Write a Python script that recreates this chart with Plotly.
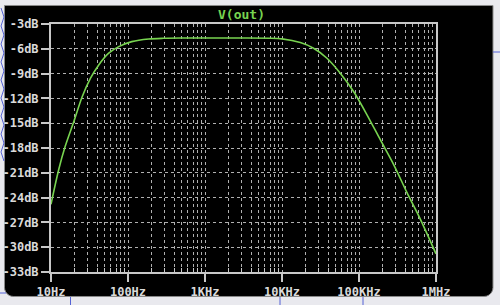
import math
import plotly.graph_objects as go

# ---- data ----
freq_hz = [10, 12.6, 15.3, 19.8, 25.4, 32.6, 41.7, 56.2, 75.9, 112, 186, 288,
           500, 1000, 3000, 7000, 10000, 17300, 25700, 38400, 57100, 85100,
           127000, 189000, 282000, 420000, 625000, 1000000]
gain_db = [-24.8, -20.6, -17.8, -14.8, -11.8, -9.55, -7.95, -6.53, -5.74, -5.13,
           -4.81, -4.73, -4.70, -4.70, -4.70, -4.72, -4.80, -5.25, -5.93, -7.14,
           -8.95, -11.17, -13.98, -17.0, -20.0, -23.4, -26.6, -30.8]

x_tick_vals = [10, 100, 1000, 10000, 100000, 1000000]
x_tick_text = ["10Hz", "100Hz", "1KHz", "10KHz", "100KHz", "1MHz"]
y_tick_vals = [-3, -6, -9, -12, -15, -18, -21, -24, -27, -30, -33]
y_tick_text = ["-3dB", "-6dB", "-9dB", "-12dB", "-15dB", "-18dB", "-21dB",
               "-24dB", "-27dB", "-30dB", "-33dB"]
minor_vals = [m * 10 ** d for d in range(1, 6) for m in range(2, 10)]
title_text = "V(out)"

W, H = 500, 305
ML, MR, MT, MB = 51, 64, 24, 33
PW, PH = W - ML - MR, H - MT - MB


def px(x):
    return (x - ML) / PW


def py(y):
    return (H - MB - y) / PH


FONT = "DejaVu Sans Mono"
LABEL = "#dadada"
GRID = "#b0b0b0"
FRAME = "#c8c8c8"
GREEN = "#78d450"

fig = go.Figure()
fig.add_trace(go.Scatter(
    x=freq_hz, y=gain_db, mode="lines",
    line=dict(color=GREEN, width=1.6, shape="spline", smoothing=0.8),
    hoverinfo="skip", showlegend=False))

# black panel: square top, rounded bottom corners (polygon)
x0, x1, y0, y1, r = 4.5, 493, 5.5, 296.5, 9
pts = [(x0, y0), (x1, y0), (x1, y1 - r)]
for k in range(1, 7):
    a = (math.pi / 2) * k / 6
    pts.append((x1 - r + r * math.cos(a), y1 - r + r * math.sin(a)))
pts.append((x0 + r, y1))
for k in range(1, 7):
    a = math.pi / 2 + (math.pi / 2) * k / 6
    pts.append((x0 + r + r * math.cos(a), y1 - r + r * math.sin(a)))
path = "M " + " L ".join(f"{px(a):.5f},{py(b):.5f}" for a, b in pts) + " Z"
shapes = [dict(type="path", xref="paper", yref="paper", path=path,
               fillcolor="#000000", line=dict(color="#8a8a8a", width=1), layer="below")]

BLUE = "#5563d6"
wig_pts = []
yy = 8.0
while yy < 160:
    wig_pts.append((1.0, yy))
    wig_pts.append((4.0, yy + 9))
    yy += 18
wig = "M " + " L ".join(f"{px(a):.5f},{py(b):.5f}" for a, b in wig_pts)
shapes.append(dict(type="path", xref="paper", yref="paper", path=wig,
                   line=dict(color=BLUE, width=1), layer="below"))
for (xa, ya, xb, yb) in [(493, 52, 500, 52), (0, 293, 6, 293), (70.5, 297, 70.5, 305),
                         (280, 297, 280, 305), (363, 297, 363, 305)]:
    shapes.append(dict(type="line", xref="paper", yref="paper",
                       x0=px(xa), y0=py(ya), x1=px(xb), y1=py(yb),
                       line=dict(color=BLUE, width=1), layer="below"))

fig.update_layout(
    width=W, height=H,
    margin=dict(l=ML, r=MR, t=MT, b=MB, pad=0, autoexpand=False),
    paper_bgcolor="#e9e9ee",
    plot_bgcolor="#000000",
    shapes=shapes,
    showlegend=False,
    annotations=[dict(text=f"<b>{title_text}</b>", xref="paper", yref="paper",
                      x=px(241), y=py(14), xanchor="center", yanchor="middle",
                      showarrow=False,
                      font=dict(family=FONT, size=13, color=GREEN))],
)

fig.update_xaxes(
    type="log", range=[1, 6], automargin=False,
    tickmode="array", tickvals=x_tick_vals, ticktext=[f"<b>{t}</b>" for t in x_tick_text],
    ticks="outside", ticklen=8, tickwidth=1.5, tickcolor=FRAME,
    showline=True, linecolor=FRAME, linewidth=2, mirror=True,
    showgrid=True, gridcolor=GRID, gridwidth=1, griddash="3px,3px",
    zeroline=False,
    tickfont=dict(family=FONT, size=12, color=LABEL),
    minor=dict(tickmode="array", tickvals=minor_vals, ticks="inside", ticklen=4,
               tickcolor=FRAME, tickwidth=1, showgrid=True, gridcolor=GRID,
               gridwidth=1, griddash="3px,3px"),
)
fig.update_yaxes(
    range=[-33, -3], automargin=False,
    tickmode="array", tickvals=y_tick_vals, ticktext=[f"<b>{t}</b>" for t in y_tick_text],
    ticks="outside", ticklen=8, tickwidth=1.5, tickcolor=FRAME,
    showline=True, linecolor=FRAME, linewidth=2, mirror=True,
    showgrid=True, gridcolor=GRID, gridwidth=1, griddash="3px,3px",
    zeroline=False,
    tickfont=dict(family=FONT, size=12, color=LABEL),
)

fig.write_html("out.html")
